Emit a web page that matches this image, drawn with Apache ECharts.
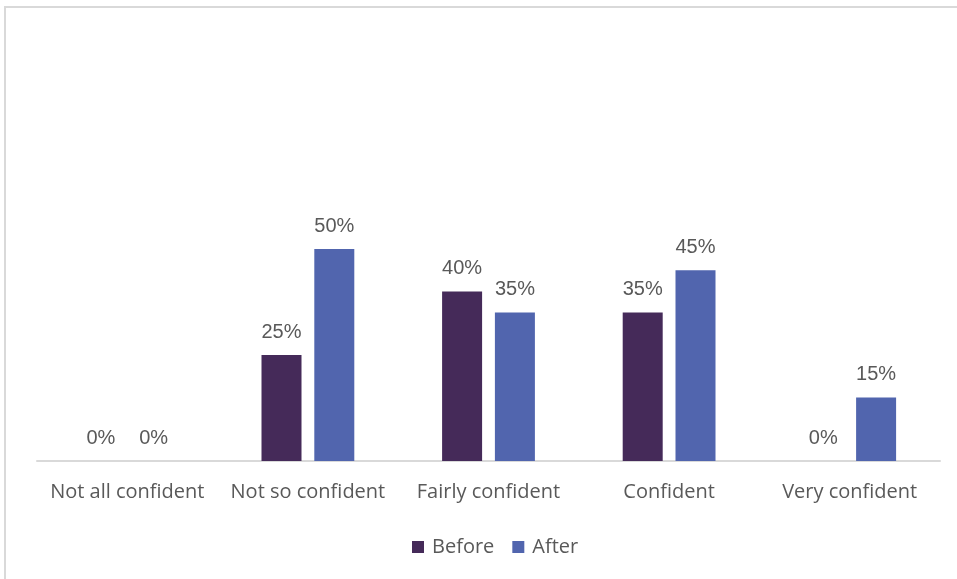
<!DOCTYPE html>
<html>
<head>
<meta charset="utf-8">
<script src="https://cdn.jsdelivr.net/npm/echarts@6/dist/echarts.min.js"></script>
<style>
  html, body { margin: 0; padding: 0; background: #fff; }
  #chart { width: 957px; height: 579px; }
</style>
</head>
<body>
<div id="chart"></div>
<script>
// Confidence levels and shares of respondents before / after
const categories = ['Not all confident', 'Not so confident', 'Fairly confident', 'Confident', 'Very confident'];
const beforeValues = [0, 0.25, 0.40, 0.35, 0];
const afterValues = [0, 0.50, 0.35, 0.45, 0.15];
const seriesNames = ['Before', 'After'];

const textColor = '#595959';
const labelFont = '"Open Sans", sans-serif';
const valueFont = '"Liberation Sans", Arial, sans-serif';

const chart = echarts.init(document.getElementById('chart'));

const pct = p => Math.round(p.value * 100) + '%';

const barLabel = {
  show: true,
  position: 'top',
  distance: 13,
  color: textColor,
  fontSize: 20,
  fontFamily: valueFont,
  formatter: pct
};

chart.setOption({
  animation: false,
  backgroundColor: '#ffffff',
  graphic: [{
    type: 'rect',
    shape: { x: 5, y: 7, width: 1000, height: 700 },
    style: { fill: 'none', stroke: '#d9d9d9', lineWidth: 2 },
    silent: true
  }],
  grid: { left: 37, right: 17, top: 37, bottom: 118, containLabel: false },
  legend: {
    data: seriesNames,
    bottom: 17,
    left: 407,
    icon: 'rect',
    itemWidth: 12,
    itemHeight: 12,
    itemGap: 18,
    textStyle: { color: textColor, fontSize: 20, fontFamily: labelFont, padding: [0, 0, 0, 3] }
  },
  xAxis: {
    type: 'category',
    data: categories,
    axisLine: { show: true, lineStyle: { color: '#d9d9d9', width: 2 } },
    axisTick: { show: false },
    axisLabel: { color: textColor, fontSize: 20, fontFamily: labelFont, margin: 21, interval: 0 }
  },
  yAxis: {
    type: 'value',
    min: 0,
    max: 1,
    show: false,
    splitLine: { show: false }
  },
  series: [
    {
      name: seriesNames[0],
      type: 'bar',
      data: beforeValues,
      barWidth: 40,
      barGap: '32%',
      itemStyle: { color: '#452a59' },
      label: barLabel
    },
    {
      name: seriesNames[1],
      type: 'bar',
      data: afterValues,
      barWidth: 40,
      itemStyle: { color: '#5165ae' },
      label: barLabel
    }
  ]
});
</script>
</body>
</html>
